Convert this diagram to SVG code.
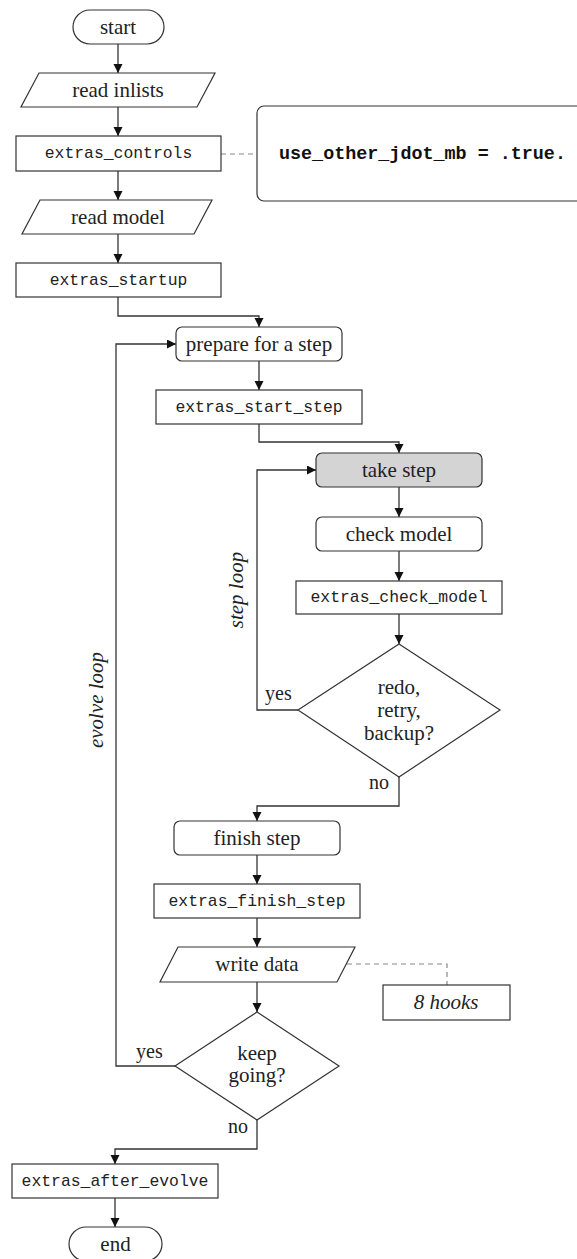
<svg xmlns="http://www.w3.org/2000/svg" width="577" height="1259" viewBox="0 0 577 1259">
<style>
.n{fill:#fff;stroke:#333;stroke-width:1.2}
.g{fill:#d4d4d4;stroke:#333;stroke-width:1.2}
.c{fill:none;stroke:#333;stroke-width:1.3}
.d{fill:none;stroke:#888;stroke-width:1.2;stroke-dasharray:5,4}
.s{font-family:"Liberation Serif","Times New Roman",serif;font-size:21px;fill:#222;text-anchor:middle}
.i{font-family:"Liberation Serif","Times New Roman",serif;font-size:21px;font-style:italic;fill:#222;text-anchor:middle}
.l{font-family:"Liberation Serif","Times New Roman",serif;font-size:20px;fill:#222}
.m{font-family:"Liberation Mono","Courier New",monospace;font-size:16.4px;fill:#222;text-anchor:middle}
.b{font-family:"Liberation Mono","Courier New",monospace;font-size:18.4px;font-weight:bold;fill:#111}
</style>
<defs>
<marker id="ah" markerUnits="userSpaceOnUse" markerWidth="10" markerHeight="10" refX="9" refY="4.5" orient="auto">
<path d="M0,0 L9,4.5 L0,9 z" fill="#111"/>
</marker>
</defs>
<g id="connectors">
<line class="c" x1="118" y1="44" x2="118" y2="73" marker-end="url(#ah)"/>
<line class="c" x1="118" y1="107" x2="118" y2="136" marker-end="url(#ah)"/>
<line class="c" x1="118" y1="171" x2="118" y2="200" marker-end="url(#ah)"/>
<line class="c" x1="118" y1="234" x2="118" y2="263" marker-end="url(#ah)"/>
<polyline class="c" points="118,297 118,316 259,316 259,327" marker-end="url(#ah)"/>
<line class="c" x1="259" y1="361" x2="259" y2="390" marker-end="url(#ah)"/>
<polyline class="c" points="259,424 259,442 399,442 399,453" marker-end="url(#ah)"/>
<line class="c" x1="399" y1="487" x2="399" y2="517" marker-end="url(#ah)"/>
<line class="c" x1="399" y1="551" x2="399" y2="581" marker-end="url(#ah)"/>
<line class="c" x1="399" y1="614" x2="399" y2="644" marker-end="url(#ah)"/>
<polyline class="c" points="298,710 257,710 257,470 316,470" marker-end="url(#ah)"/>
<polyline class="c" points="399,777 399,806 257,806 257,821" marker-end="url(#ah)"/>
<line class="c" x1="257" y1="855" x2="257" y2="884" marker-end="url(#ah)"/>
<line class="c" x1="257" y1="918" x2="257" y2="947" marker-end="url(#ah)"/>
<line class="c" x1="257" y1="982" x2="257" y2="1012" marker-end="url(#ah)"/>
<polyline class="c" points="175,1066 116,1066 116,344 176,344" marker-end="url(#ah)"/>
<polyline class="c" points="257,1120 257,1149 115,1149 115,1164" marker-end="url(#ah)"/>
<line class="c" x1="115" y1="1198" x2="115" y2="1227" marker-end="url(#ah)"/>
<line class="d" x1="221" y1="154" x2="257" y2="154"/>
<polyline class="d" points="347,964 447,964 447,985"/>
<text class="l" x="265" y="700">yes</text>
<text class="l" x="369" y="789">no</text>
<text class="l" x="136" y="1058">yes</text>
<text class="l" x="228" y="1133">no</text>
<text class="i" transform="translate(243,590) rotate(-90)">step loop</text>
<text class="i" transform="translate(103,700) rotate(-90)">evolve loop</text>
</g>
<g id="start"><rect class="n" x="73" y="10" width="91" height="34" rx="17"/><text class="s" x="118" y="34">start</text></g>
<g id="read_inlists"><polygon class="n" points="39,73 215,73 197,107 21,107"/><text class="s" x="118" y="97">read inlists</text></g>
<g id="extras_controls"><rect class="n" x="16" y="136" width="205" height="35"/><text class="m" x="118.5" y="158">extras_controls</text></g>
<g id="note"><rect class="n" x="257" y="106" width="340" height="95" rx="7"/><text class="b" x="279" y="159">use_other_jdot_mb = .true.</text></g>
<g id="read_model"><polygon class="n" points="40,200 212,200 194,234 22,234"/><text class="s" x="118" y="224">read model</text></g>
<g id="extras_startup"><rect class="n" x="16" y="263" width="205" height="34"/><text class="m" x="118.5" y="285">extras_startup</text></g>
<g id="prepare"><rect class="n" x="176" y="327" width="166" height="34" rx="6"/><text class="s" x="259" y="351">prepare for a step</text></g>
<g id="extras_start_step"><rect class="n" x="156" y="390" width="206" height="34"/><text class="m" x="259" y="412">extras_start_step</text></g>
<g id="take_step"><rect class="g" x="316" y="453" width="166" height="34" rx="6"/><text class="s" x="399" y="477">take step</text></g>
<g id="check_model"><rect class="n" x="316" y="517" width="166" height="34" rx="6"/><text class="s" x="399" y="541">check model</text></g>
<g id="extras_check_model"><rect class="n" x="296" y="581" width="206" height="33"/><text class="m" x="399" y="602">extras_check_model</text></g>
<g id="redo"><polygon class="n" points="399,644 500,710 399,777 298,710"/><text class="s" x="399" y="694">redo,</text><text class="s" x="399" y="717">retry,</text><text class="s" x="399" y="740">backup?</text></g>
<g id="finish_step"><rect class="n" x="174" y="821" width="166" height="34" rx="6"/><text class="s" x="257" y="845">finish step</text></g>
<g id="extras_finish_step"><rect class="n" x="154" y="884" width="206" height="34"/><text class="m" x="257" y="906">extras_finish_step</text></g>
<g id="write_data"><polygon class="n" points="178,947 355,947 337,982 160,982"/><text class="s" x="257" y="971">write data</text></g>
<g id="hooks"><rect class="n" x="383" y="985" width="127" height="35"/><text class="i" x="446" y="1009">8 hooks</text></g>
<g id="keep_going"><polygon class="n" points="257,1012 339,1066 257,1120 175,1066"/><text class="s" x="257" y="1060">keep</text><text class="s" x="257" y="1082">going?</text></g>
<g id="extras_after_evolve"><rect class="n" x="12" y="1164" width="206" height="34"/><text class="m" x="115" y="1186">extras_after_evolve</text></g>
<g id="end"><rect class="n" x="69" y="1227" width="93" height="34" rx="17"/><text class="s" x="115.5" y="1251">end</text></g>
</svg>
